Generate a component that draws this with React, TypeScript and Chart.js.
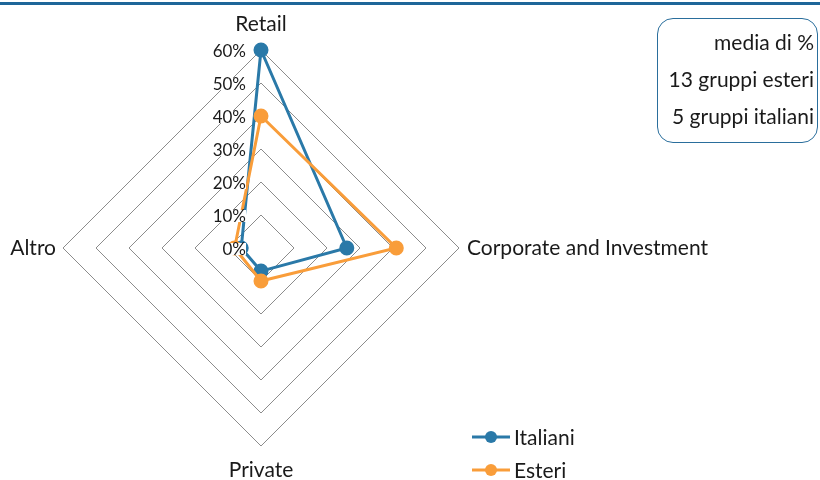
import React, { useEffect, useRef } from "react";
import { Chart, registerables } from "chart.js";

Chart.register(...registerables);

const categories = ["Retail", "Corporate and Investment", "Private", "Altro"];
const italiani = [60, 26, 7, 6];
const esteri = [40, 41, 10, 8];
const tickValues = [0, 10, 20, 30, 40, 50, 60];
const tickLabels = ["0%", "10%", "20%", "30%", "40%", "50%", "60%"];
const boxLines = ["media di %", "13 gruppi esteri", "5 gruppi italiani"];
const legendItems = ["Italiani", "Esteri"];

const BLUE = "#2A79A8";
const ORANGE = "#F99D3A";
const FONT = "Lato, 'Noto Sans', sans-serif";

const labelsPlugin = {
  id: "customLabels",
  afterDatasetsDraw(chart: any) {
    const scale = chart.scales.r;
    const ctx = chart.ctx;
    ctx.save();
    ctx.font = "17px " + FONT;
    ctx.textAlign = "right";
    ctx.textBaseline = "middle";
    tickValues.forEach((v, i) => {
      const d = scale.getDistanceFromCenterForValue(v);
      const x = scale.xCenter - 15;
      const y = scale.yCenter - d + 2;
      const w = ctx.measureText(tickLabels[i]).width;
      ctx.fillStyle = "#ffffff";
      ctx.fillRect(x - w, y - 7, w, 12);
      ctx.fillStyle = "#1a1a1a";
      ctx.fillText(tickLabels[i], x, y);
    });
    ctx.restore();
  },
  afterDraw(chart: any) {
    const scale = chart.scales.r;
    const ctx = chart.ctx;
    const r = scale.drawingArea;
    ctx.save();
    ctx.fillStyle = "#1a1a1a";
    ctx.font = "21px " + FONT;
    ctx.textBaseline = "middle";
    const offsets = [26, 8, 24, 7];
    const aligns = ["center", "left", "center", "right"];
    categories.forEach((c, i) => {
      const p = scale.getPointPosition(i, r + offsets[i]);
      ctx.textAlign = aligns[i];
      ctx.fillText(c, p.x, p.y);
    });
    ctx.restore();
  },
};

export default function App() {
  const ref = useRef<HTMLCanvasElement | null>(null);
  useEffect(() => {
    if (!ref.current) return;
    const chart = new Chart(ref.current, {
      type: "radar",
      data: {
        labels: categories,
        datasets: [
          {
            label: legendItems[0],
            data: italiani,
            borderColor: BLUE,
            backgroundColor: BLUE,
            pointBackgroundColor: BLUE,
            pointBorderColor: BLUE,
            borderWidth: 3,
            pointRadius: 6,
            fill: false,
            order: 1,
          },
          {
            label: legendItems[1],
            data: esteri,
            borderColor: ORANGE,
            backgroundColor: ORANGE,
            pointBackgroundColor: ORANGE,
            pointBorderColor: ORANGE,
            borderWidth: 3,
            pointRadius: 6,
            fill: false,
            order: 0,
          },
        ],
      },
      options: {
        animation: false,
        responsive: false,
        maintainAspectRatio: false,
        layout: { padding: { left: 63, top: 50, right: 361, bottom: 34 } },
        plugins: { legend: { display: false }, tooltip: { enabled: false } },
        scales: {
          r: {
            min: 0,
            max: 60,
            ticks: { display: false, stepSize: 10 },
            grid: { color: "#8c8c8c", lineWidth: 1, circular: false },
            angleLines: { display: false },
            pointLabels: { display: false },
          },
        },
      },
      plugins: [labelsPlugin],
    });
    return () => chart.destroy();
  }, []);

  return (
    <div style={{ position: "fixed", left: 0, top: 0, width: 820, height: 480, background: "#fff", overflow: "hidden", fontFamily: FONT }}>
      <div style={{ position: "absolute", left: 0, top: 2, width: 820, height: 3, background: "#1E6699" }} />
      <canvas ref={ref} width={820} height={480} style={{ position: "absolute", left: 0, top: 0 }} />
      <div
        style={{
          position: "absolute",
          left: 657,
          top: 18,
          width: 159,
          height: 123,
          border: "1.5px solid #2A6E9C",
          borderRadius: 16,
        }}
      />
      {boxLines.map((t, i) => (
        <div
          key={t}
          style={{
            position: "absolute",
            right: 6,
            top: 42 + i * 37 - 12,
            height: 24,
            lineHeight: "24px",
            fontSize: 21,
            color: "#1a1a1a",
            textAlign: "right",
            whiteSpace: "nowrap",
          }}
        >
          {t}
        </div>
      ))}
      {legendItems.map((t, i) => {
        const color = i === 0 ? BLUE : ORANGE;
        const cy = 437 + i * 33;
        return (
          <div key={t} style={{ position: "absolute", left: 470, top: cy - 12, height: 24, display: "flex", alignItems: "center" }}>
            <svg width={42} height={24} style={{ display: "block" }}>
              <line x1={2} y1={12} x2={40} y2={12} stroke={color} strokeWidth={3} />
              <circle cx={21} cy={12} r={6} fill={color} />
            </svg>
            <span style={{ fontSize: 21, color: "#1a1a1a", marginLeft: 2, lineHeight: "24px" }}>{t}</span>
          </div>
        );
      })}
    </div>
  );
}
